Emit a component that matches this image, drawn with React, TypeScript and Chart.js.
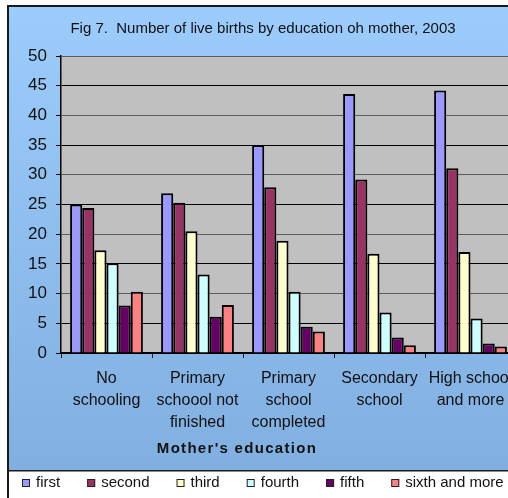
import React, { useEffect, useRef } from "react";
import { Chart, registerables } from "chart.js";

Chart.register(...registerables);

const TITLE = "Fig 7.  Number of live births by education oh mother, 2003";
const X_AXIS_TITLE = "Mother's education";

const categories: string[][] = [
  ["No", "schooling"],
  ["Primary", "schoool not", "finished"],
  ["Primary", "school", "completed"],
  ["Secondary", "school"],
  ["High school", "and more"],
];

const seriesNames = ["first", "second", "third", "fourth", "fifth", "sixth and more"];
const seriesColors = ["#9999FF", "#993366", "#FFFFCC", "#CCFFFF", "#660066", "#FF8080"];

const first = [25.0, 26.9, 35.0, 43.6, 44.2];
const second = [24.4, 25.3, 27.9, 29.2, 31.1];
const third = [17.3, 20.5, 18.9, 16.7, 17.0];
const fourth = [15.1, 13.2, 10.3, 6.8, 5.8];
const fifth = [8.0, 6.1, 4.4, 2.6, 1.6];
const sixthAndMore = [10.3, 8.1, 3.6, 1.3, 1.1];

const Y_MIN = 0;
const Y_MAX = 50;
const Y_STEP = 5;

const FONT = '"Liberation Sans", Arial, sans-serif';

export default function App() {
  const ref = useRef<HTMLCanvasElement>(null);

  useEffect(() => {
    const canvas = ref.current;
    if (!canvas) return;
    const seriesValues = [first, second, third, fourth, fifth, sixthAndMore];
    const LEGEND_TOP = 470;

    const framePlugin = {
      id: "frame",
      beforeDraw(chart: any) {
        const { ctx, width, height, chartArea } = chart;
        ctx.save();
        ctx.fillStyle = "#ffffff";
        ctx.fillRect(0, 0, width, height);
        const g = ctx.createLinearGradient(0, 6, 0, LEGEND_TOP);
        g.addColorStop(0, "#9CCCFC");
        g.addColorStop(1, "#80AFE0");
        ctx.fillStyle = g;
        ctx.fillRect(8, 6, width - 8, LEGEND_TOP - 6);
        ctx.fillStyle = "#C0C0C0";
        ctx.fillRect(
          chartArea.left,
          chartArea.top,
          chartArea.right - chartArea.left,
          chartArea.bottom - chartArea.top
        );
        ctx.restore();
      },
      afterDraw(chart: any) {
        const { ctx, width, height } = chart;
        ctx.save();
        // frame lines
        ctx.fillStyle = "#1a1a1a";
        ctx.fillRect(7, 5, 2, height - 5);
        ctx.fillRect(7, 5, width - 7, 2);
        ctx.fillRect(8, LEGEND_TOP, width - 8, 1.5);

        // title
        ctx.fillStyle = "#111";
        ctx.font = `15px ${FONT}`;
        ctx.textAlign = "center";
        ctx.textBaseline = "middle";
        ctx.fillText(TITLE, 263, 29);

        // x axis title
        ctx.font = `bold 15px ${FONT}`;
        (ctx as any).letterSpacing = "1.3px";
        ctx.fillText(X_AXIS_TITLE, 237, 449);
        (ctx as any).letterSpacing = "0px";

        // legend
        ctx.font = `15px ${FONT}`;
        ctx.textAlign = "left";
        let x = 22;
        const yMid = 483;
        chart.data.datasets.forEach((ds: any) => {
          ctx.fillStyle = ds.backgroundColor;
          ctx.fillRect(x, yMid - 4, 8, 8);
          ctx.strokeStyle = "#222";
          ctx.lineWidth = 1;
          ctx.strokeRect(x + 0.5, yMid - 3.5, 7, 7);
          ctx.fillStyle = "#111";
          ctx.fillText(ds.label, x + 14, yMid);
          x += 14 + ctx.measureText(ds.label).width + 27;
        });
        ctx.restore();
      },
    };

    const chart = new Chart(canvas, {
      type: "bar",
      data: {
        labels: categories,
        datasets: seriesNames.map((name, i) => ({
          label: name,
          data: seriesValues[i],
          backgroundColor: seriesColors[i],
          borderColor: "#000",
          borderWidth: 2,
          barPercentage: 1,
          categoryPercentage: 0.8,
        })),
      },
      options: {
        animation: false,
        responsive: false,
        devicePixelRatio: 1,
        layout: { padding: { top: 56, left: 9, right: 24, bottom: 28 } },
        plugins: {
          legend: { display: false },
          title: { display: false },
          tooltip: { enabled: false },
        },
        scales: {
          x: {
            offset: true,
            grid: {
              display: true,
              drawOnChartArea: false,
              drawTicks: true,
              tickLength: 5,
              tickColor: "#222",
              offset: true,
            },
            border: { color: "#000", width: 1.5 },
            ticks: {
              color: "#111",
              font: { family: FONT, size: 16, lineHeight: 1.375 },
              padding: 10,
              maxRotation: 0,
              autoSkip: false,
            },
            afterFit: (s: any) => {
              s.height = 117;
            },
          },
          y: {
            min: Y_MIN,
            max: Y_MAX,
            ticks: {
              stepSize: Y_STEP,
              color: "#111",
              font: { family: FONT, size: 17 },
              padding: 9,
            },
            grid: {
              color: (c: any) => {
                const v = c.tick ? c.tick.value : 0;
                return v % 10 === 5 || v === 0 ? "#000" : "#5c5c5c";
              },
              lineWidth: 1,
              tickLength: 5,
              tickColor: "#000",
            },
            border: { color: "#000", width: 1.5 },
            afterFit: (s: any) => {
              s.width = 52;
            },
          },
        },
      },
      plugins: [framePlugin],
    });

    return () => chart.destroy();
  }, []);

  return (
    <div
      style={{
        position: "fixed",
        left: 0,
        top: 0,
        width: 508,
        height: 498,
        overflow: "hidden",
        background: "#fff",
      }}
    >
      <canvas
        ref={ref}
        width={540}
        height={498}
        style={{ position: "absolute", left: 0, top: 0, width: 540, height: 498, display: "block" }}
      />
    </div>
  );
}
